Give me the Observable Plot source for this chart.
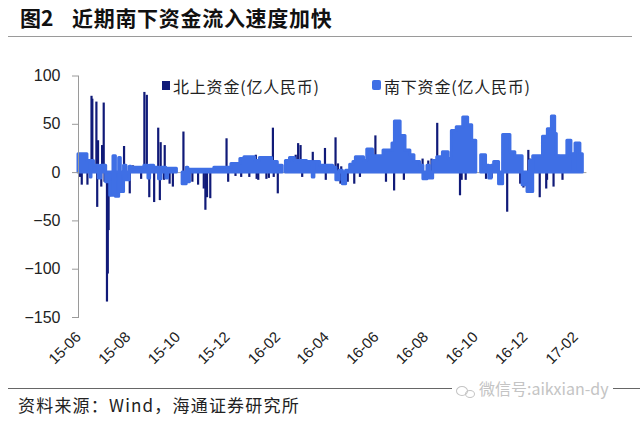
<!DOCTYPE html>
<html><head><meta charset="utf-8">
<script src="https://cdn.jsdelivr.net/npm/d3@7"></script>
<script src="https://cdn.jsdelivr.net/npm/@observablehq/plot@0.6"></script>
<style>
body{margin:0;background:#fff;}
#wrap{position:relative;width:640px;height:423px;overflow:hidden;font-family:"Noto Sans CJK SC","Liberation Sans",sans-serif;color:#111;}
#title{position:absolute;left:8px;top:0;width:624px;height:36px;border-bottom:1.5px solid #9a9a9a;}
#title .fig{position:absolute;left:12px;top:2px;font-size:21px;font-weight:bold;line-height:30px;}
#title .txt{position:absolute;left:64px;top:2px;font-size:21px;font-weight:bold;line-height:30px;letter-spacing:0.7px;}
#chart{position:absolute;left:0;top:40px;}
.leg{position:absolute;top:76px;font-size:16px;line-height:20px;letter-spacing:0.8px;color:#222;white-space:nowrap;}
.sw{position:absolute;}
#cap{position:absolute;left:8px;top:388px;width:632px;border-top:1px solid #666;}
#cap .src{position:absolute;left:10px;top:4px;font-size:17px;line-height:24px;letter-spacing:1.2px;color:#222;white-space:nowrap;}
#wm{position:absolute;left:452px;top:378px;height:20px;padding:0 4px;background:#fff;color:#c4c4c4;font-size:16px;line-height:20px;white-space:nowrap;}
#wm .b1{display:inline-block;width:10px;height:8px;border:1.5px solid #c4c4c4;border-radius:50%;vertical-align:middle;margin-right:-3px;}
#wm .b2{display:inline-block;width:8px;height:6px;border:1.5px solid #c4c4c4;border-radius:50%;vertical-align:middle;margin-right:4px;margin-top:6px;}
</style></head>
<body>
<div id="wrap">
  <div id="title"><span class="fig">图2</span><span class="txt">近期南下资金流入速度加快</span></div>
  <div id="chart"></div>
  <div class="sw" style="left:162px;top:81px;width:8px;height:9px;background:#101a78;"></div>
  <div class="leg" style="left:173px;">北上资金(亿人民币)</div>
  <div class="sw" style="left:372px;top:80px;width:9px;height:10px;background:#3f6fe5;border-radius:2px;"></div>
  <div class="leg" style="left:384px;">南下资金(亿人民币)</div>
  <div id="cap"><span class="src">资料来源：Wind，海通证券研究所</span></div>
  <div id="wm"><span class="b1"></span><span class="b2"></span>微信号:aikxian-dy</div>
</div>
<script>
// 南下资金 (light blue), step values from each date until the next; NaN = market closed gap
const southDates = [
 "2015-06-01","2015-06-12","2015-06-16","2015-06-17","2015-06-20","2015-06-26","2015-06-29","2015-07-05","2015-07-10","2015-07-14",
 "2015-07-17","2015-07-21","2015-07-23","2015-07-27","2015-07-30","2015-08-03","2015-08-05","2015-08-21","2015-08-26","2015-08-28",
 "2015-09-02","2015-09-08","2015-09-11","2015-09-17","2015-09-19","2015-09-30","2015-10-01","2015-10-07","2015-10-12","2015-10-14",
 "2015-10-16","2015-11-15","2015-12-06","2015-12-17","2015-12-22","2016-01-04","2016-01-10","2016-01-25","2016-02-01","2016-02-07",
 "2016-02-08","2016-02-11","2016-02-16","2016-02-22","2016-03-08","2016-03-15","2016-03-17","2016-03-24","2016-04-09","2016-04-13",
 "2016-04-17","2016-04-21","2016-04-25","2016-04-30","2016-05-04","2016-05-07","2016-05-17","2016-05-21","2016-05-28","2016-06-10",
 "2016-06-21","2016-06-24","2016-07-01","2016-07-07","2016-07-13","2016-07-18","2016-07-25","2016-07-29","2016-08-03","2016-08-06",
 "2016-08-10","2016-08-15","2016-08-22","2016-08-29","2016-09-02","2016-09-08","2016-09-16","2016-09-22","2016-09-27","2016-10-02",
 "2016-10-03","2016-10-08","2016-10-14","2016-10-18","2016-10-21","2016-10-24","2016-10-30","2016-11-04","2016-11-13","2016-11-19",
 "2016-11-28","2016-12-04","2016-12-07","2016-12-09","2016-12-11","2016-12-23","2016-12-29","2017-01-03","2017-01-07","2017-01-09",
 "2017-01-22","2017-01-27","2017-01-30","2017-01-31","2017-02-01","2017-02-07","2017-02-10"
];
const southValues = [
 19,12,-5,12,7,-6,7,-10,-24,17,
 -25,15,-20,7,-8,6,5,7,-6,7,
 5,-7,5,-6,4,4,NaN,-12,5,-10,
 3,5,9,14,16,12,15,11,7,7,
 NaN,12,15,12,11,-5,11,7,5,-8,
 2,-12,2,8,11,16,12,24,17,23,
 30,53,38,23,18,11,7,-7,7,-6,
 12,16,21,14,43,47,57,49,33,33,
 NaN,18,7,-6,7,11,-12,39,21,17,
 -13,-20,12,-20,17,37,45,58,40,17,
 33,19,19,NaN,30,19,19
];
// 北上资金 (navy) daily bars
const northDates = [
 "2015-06-03","2015-06-05","2015-06-08","2015-06-12","2015-06-17","2015-06-18","2015-06-23","2015-06-24","2015-06-25","2015-06-29",
 "2015-06-30","2015-07-02","2015-07-03","2015-07-06","2015-07-07","2015-07-08","2015-07-10","2015-07-13","2015-07-27","2015-08-03",
 "2015-08-07","2015-08-10","2015-08-17","2015-08-21","2015-08-24","2015-08-27","2015-09-02","2015-09-07","2015-09-09","2015-09-10",
 "2015-09-14","2015-09-15","2015-09-21","2015-09-25","2015-10-08","2015-10-19","2015-10-26","2015-11-02","2015-11-04","2015-11-06",
 "2015-11-10","2015-11-30","2015-12-02","2015-12-11","2015-12-18","2015-12-28","2016-01-05","2016-01-06","2016-01-08","2016-01-18",
 "2016-01-21","2016-01-26","2016-01-27","2016-02-01","2016-02-23","2016-02-26","2016-02-29","2016-03-02","2016-03-07","2016-03-11",
 "2016-03-15","2016-03-30","2016-03-31","2016-04-12","2016-04-15","2016-04-18","2016-04-19","2016-04-27","2016-05-05","2016-05-12",
 "2016-05-31","2016-06-02","2016-06-13","2016-06-23","2016-07-05","2016-07-22","2016-07-28","2016-08-04","2016-08-08","2016-08-15",
 "2016-09-12","2016-09-14","2016-09-19","2016-10-13","2016-10-14","2016-10-21","2016-11-09","2016-11-21","2016-11-25","2016-11-29",
 "2016-12-05","2016-12-07","2016-12-09","2016-12-19","2016-12-27","2016-12-28","2017-01-05","2017-01-11","2017-01-16"
];
const northValues = [
 -5,-13,6,-13,79,76,73,-36,33,-15,
 28,72,-10,-134,-105,-60,-25,-20,27,-22,
 7,6,-7,83,80,-26,-31,46,-29,31,
 -8,28,-12,-15,42,-10,-13,-17,-39,-26,
 -27,35,-10,-4,-5,-5,18,-7,-8,-7,
 -6,46,-5,-22,18,30,28,-5,12,12,
 21,25,-8,36,9,-12,6,-10,-12,-5,
 38,14,-10,-19,-8,12,14,12,14,51,
 -24,-8,-8,11,-7,-6,-41,16,-12,-16,
 23,14,-10,-26,-17,-8,-15,18,-8
];
const xTickLabels = ["15-06","15-08","15-10","15-12","16-02","16-04","16-06","16-08","16-10","16-12","17-02"];
const yTicks = [100,50,0,-50,-100,-150];

const NAVY = "#101a78", LIGHT = "#3f6fe5";
const south = southDates.map((d,i)=>({date:new Date(d), value:southValues[i]}));
const north = northDates.map((d,i)=>({date:new Date(d), value:northValues[i]}));
const xTicks = xTickLabels.map(s => new Date(`20${s}-01`));

const chart = Plot.plot({
  width: 640, height: 345,
  marginLeft: 78, marginRight: 53.6, marginTop: 35.5, marginBottom: 68,
  x: {type: "utc", domain: [new Date("2015-06-01"), new Date("2017-02-15")], label: null},
  y: {domain: [-150, 100], label: null},
  style: {fontFamily: '"Liberation Sans", Arial, sans-serif', fontSize: "16px", color: "#222", background: "transparent"},
  marks: [
    Plot.ruleY([0], {stroke: "#a0a0a0", strokeWidth: 1}),
    Plot.ruleX(north, {x: "date", y1: 0, y2: "value", stroke: NAVY, strokeWidth: 2.2}),
    Plot.areaY(south, {x: "date", y1: 0, y2: "value", curve: "step-after", fill: LIGHT, stroke: LIGHT, strokeWidth: 3, strokeLinejoin: "round"}),
    Plot.frame({anchor: "left", stroke: "#9a9a9a"}),
    Plot.axisY({ticks: yTicks, tickSize: 6, tickPadding: 12, stroke: "#9a9a9a", fontSize: 16, label: null}),
    Plot.axisX({ticks: xTicks, tickFormat: d3.utcFormat("%y-%m"), tickRotate: -45, tickSize: 0, tickPadding: 17, fontSize: 15, label: null})
  ]
});
document.getElementById("chart").appendChild(chart);
</script>
</body></html>
